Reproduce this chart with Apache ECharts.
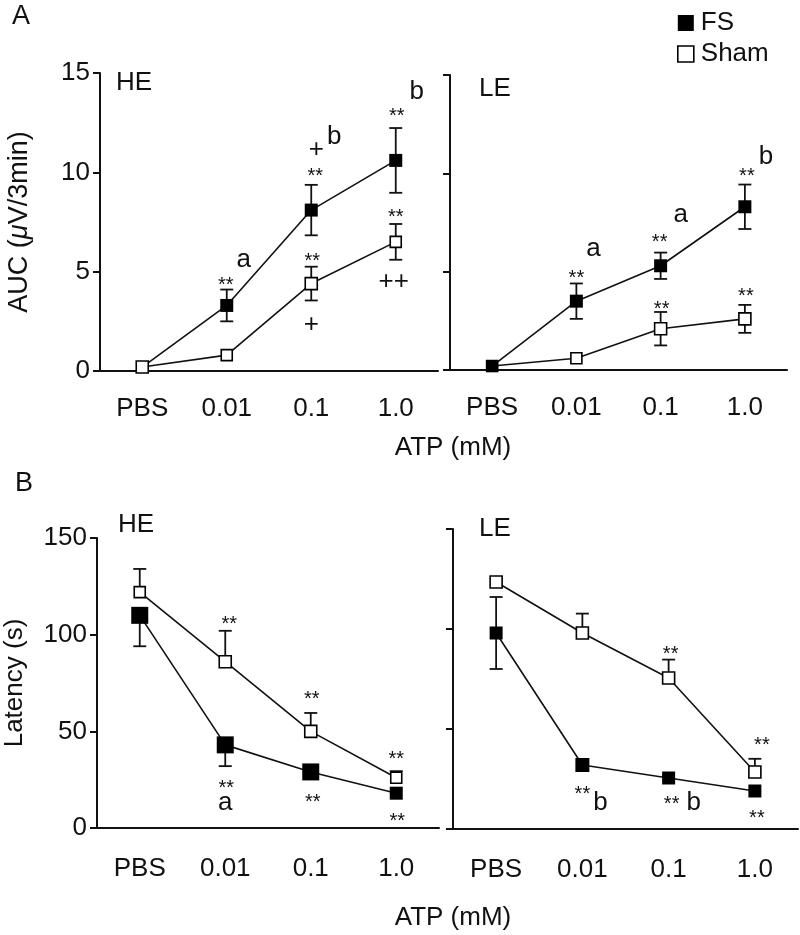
<!DOCTYPE html>
<html><head><meta charset="utf-8">
<script src="https://cdn.jsdelivr.net/npm/echarts@6.0.0/dist/echarts.min.js"></script>
<style>html,body{margin:0;padding:0;background:#fff}#c{width:800px;height:935px}</style>
</head><body><div id="c"></div>
<script>
// ---- data ----
const categories = ['PBS', '0.01', '0.1', '1.0'];
const aucTicks = [0, 5, 10, 15];
const latTicks = [0, 50, 100, 150];
// Panel A: AUC (uV/3min)
const aucHE_FS = [0.2, 3.3, 8.1, 10.6];
const aucHE_FS_err = [0, 0.8, 1.27, 1.63];
const aucHE_Sham = [0.2, 0.8, 4.4, 6.5];
const aucHE_Sham_err = [0, 0, 0.85, 0.9];
const aucLE_FS = [0.2, 3.5, 5.3, 8.3];
const aucLE_FS_err = [0, 0.9, 0.67, 1.13];
const aucLE_Sham = [0.2, 0.6, 2.1, 2.6];
const aucLE_Sham_err = [0, 0, 0.85, 0.71];
// Panel B: latency (s)
const latHE_FS = [110, 43, 29, 18];
const latHE_FS_errDown = [16, 11, 0, 0];
const latHE_Sham = [122, 86, 50, 26];
const latHE_Sham_errUp = [12, 16, 9.5, 3.4];
const latLE_FS = [98, 32, 25.5, 19];
const latLE_FS_err = [18, 0, 0, 0];
const latLE_Sham = [123.5, 98, 75.5, 28.5];
const latLE_Sham_errUp = [0, 9.7, 9.2, 6.6];

// ---- styling / layout ----
const FONT = '"Liberation Sans", Arial, Helvetica, sans-serif';
const INK = '#111';
const FS_TXT = 26;
const grids = [
  {left: 100, top: 73, width: 338, height: 298},
  {left: 450, top: 75, width: 337, height: 295},
  {left: 97, top: 538, width: 342, height: 290},
  {left: 453, top: 529, width: 345, height: 300}
];
const symbolSizes = {
  0: {FS: [12, 13, 13, 13], Sham: [12, 11, 12, 11]},
  1: {FS: [12, 13, 13, 13], Sham: [11, 11, 12, 12]},
  2: {FS: [17, 17, 17, 13], Sham: [11, 12, 12, 11]},
  3: {FS: [13, 14, 13, 13], Sham: [12, 12, 12, 12]}
};
const panels = [
  {FS: aucHE_FS, FSup: aucHE_FS_err, FSdn: aucHE_FS_err, Sham: aucHE_Sham, Shup: aucHE_Sham_err, Shdn: aucHE_Sham_err, order: ['FS', 'Sham']},
  {FS: aucLE_FS, FSup: aucLE_FS_err, FSdn: aucLE_FS_err, Sham: aucLE_Sham, Shup: aucLE_Sham_err, Shdn: aucLE_Sham_err, order: ['Sham', 'FS']},
  {FS: latHE_FS, FSup: [0,0,0,0], FSdn: latHE_FS_errDown, Sham: latHE_Sham, Shup: latHE_Sham_errUp, Shdn: [0,0,0,0], order: ['FS', 'Sham']},
  {FS: latLE_FS, FSup: latLE_FS_err, FSdn: latLE_FS_err, Sham: latLE_Sham, Shup: latLE_Sham_errUp, Shdn: [0,0,0,0], order: ['FS', 'Sham']}
];
// annotations: [panel, series, categoryIndex, text, dx, dy]
const annotations = [
  [0, 'FS', 1, '**', -1, -22], [0, 'FS', 1, 'a', 17, -46],
  [0, 'FS', 2, '**', 4, -36], [0, 'FS', 2, '+', 5, -60], [0, 'FS', 2, 'b', 23, -73],
  [0, 'FS', 3, '**', 1, -46], [0, 'FS', 3, 'b', 21, -69],
  [0, 'Sham', 2, '**', 1, -24], [0, 'Sham', 2, '+', 0, 41],
  [0, 'Sham', 3, '**', 0, -26], [0, 'Sham', 3, '++', -2, 40],
  [1, 'FS', 1, '**', 0, -25], [1, 'FS', 1, 'a', 17, -52],
  [1, 'FS', 2, '**', -1, -25], [1, 'FS', 2, 'a', 20, -51],
  [1, 'FS', 3, '**', 2, -32], [1, 'FS', 3, 'b', 21, -50],
  [1, 'Sham', 2, '**', 1, -21], [1, 'Sham', 3, '**', 1, -24],
  [2, 'Sham', 1, '**', 4, -39], [2, 'Sham', 2, '**', 1, -34], [2, 'Sham', 3, '**', 0, -20],
  [2, 'FS', 1, '**', 1, 42], [2, 'FS', 1, 'a', 0, 58],
  [2, 'FS', 2, '**', 2, 29], [2, 'FS', 3, '**', 1, 26],
  [3, 'Sham', 2, '**', 2, -26], [3, 'Sham', 3, '**', 7, -29],
  [3, 'FS', 1, '**', 0, 27], [3, 'FS', 1, 'b', 18, 38],
  [3, 'FS', 2, '**', 3, 24], [3, 'FS', 2, 'b', 25, 25],
  [3, 'FS', 3, '**', 2, 25]
];

const xAxes = grids.map((g, i) => ({
  type: 'category', gridIndex: i, data: categories, boundaryGap: true,
  axisLine: {lineStyle: {color: INK, width: 2}},
  axisTick: {show: false},
  axisLabel: {color: INK, fontFamily: FONT, fontSize: FS_TXT, margin: i < 2 ? 25 : 28}
}));
const yAxes = grids.map((g, i) => {
  const ticks = i < 2 ? aucTicks : latTicks;
  const ax = {
    type: 'value', gridIndex: i, min: ticks[0], max: ticks[ticks.length - 1],
    interval: ticks[1] - ticks[0], splitLine: {show: false},
    axisLine: {show: true, lineStyle: {color: INK, width: 2}},
    axisTick: {show: true, length: 7, lineStyle: {color: INK, width: 2}},
    axisLabel: {show: i % 2 === 0, color: INK, fontFamily: FONT, fontSize: FS_TXT, margin: 10}
  };
  if (i === 0) {
    ax.name = '{n|AUC (}{i|\u03bc}{n|V/3min)}';
    ax.nameLocation = 'middle'; ax.nameRotate = 90; ax.nameGap = 67;
    ax.nameTextStyle = {rich: {n: {fontFamily: FONT, fontSize: 27, color: INK}, i: {fontFamily: FONT, fontSize: 27, fontStyle: 'italic', color: INK}}};
  }
  if (i === 2) {
    ax.name = 'Latency (s)';
    ax.nameLocation = 'middle'; ax.nameRotate = 90; ax.nameGap = 69;
    ax.nameTextStyle = {fontFamily: FONT, fontSize: 26, color: INK};
  }
  return ax;
});

function errRender(params, api) {
  const x = api.value(0), y = api.value(1), up = api.value(2), dn = api.value(3);
  const c = api.coord([x, y]);
  const hw = 6.5;
  const style = {stroke: INK, lineWidth: 1.8};
  const ch = [];
  if (up > 0) {
    const t = api.coord([x, y + up]);
    ch.push({type: 'line', shape: {x1: c[0], y1: c[1], x2: c[0], y2: t[1]}, style});
    ch.push({type: 'line', shape: {x1: c[0] - hw, y1: t[1], x2: c[0] + hw, y2: t[1]}, style});
  }
  if (dn > 0) {
    const b = api.coord([x, y - dn]);
    ch.push({type: 'line', shape: {x1: c[0], y1: c[1], x2: c[0], y2: b[1]}, style});
    ch.push({type: 'line', shape: {x1: c[0] - hw, y1: b[1], x2: c[0] + hw, y2: b[1]}, style});
  }
  return {type: 'group', children: ch};
}

const series = [];
panels.forEach((p, i) => {
  p.order.forEach(name => {
    const vals = p[name];
    const up = name === 'FS' ? p.FSup : p.Shup;
    const dn = name === 'FS' ? p.FSdn : p.Shdn;
    series.push({
      type: 'custom', name: name, xAxisIndex: i, yAxisIndex: i, z: 2,
      renderItem: errRender, encode: {x: 0, y: 1}, silent: true,
      data: vals.map((v, k) => [k, v, up[k], dn[k]])
    });
  });
  p.order.forEach(name => {
    const vals = p[name];
    const sizes = symbolSizes[i][name];
    series.push({
      type: 'line', name: name, xAxisIndex: i, yAxisIndex: i, z: 3,
      symbol: 'rect', showAllSymbol: true,
      lineStyle: {color: INK, width: 1.6},
      itemStyle: name === 'FS' ? {color: '#000', borderColor: '#000', borderWidth: 0}
                               : {color: '#fff', borderColor: '#000', borderWidth: 1.6},
      data: vals.map((v, k) => ({value: v, symbolSize: sizes[k]})),
      animation: false
    });
  });
  const ann = annotations.filter(a => a[0] === i);
  series.push({
    type: 'scatter', xAxisIndex: i, yAxisIndex: i, z: 5, symbolSize: 1, silent: true,
    itemStyle: {color: 'rgba(0,0,0,0)', opacity: 1},
    data: ann.map(a => ({
      value: [a[2], p[a[1]][a[2]]],
      label: {
        show: true, position: 'inside', formatter: a[3], offset: [a[4], a[5] + (a[3] === '**' ? 2 : 0)],
        fontFamily: FONT, color: INK, opacity: 1,
        fontSize: a[3] === '**' ? 20 : 26, align: 'center', verticalAlign: 'middle'
      }
    }))
  });
});

const txt = (x, y, s, size) => ({
  type: 'text', x: x, y: y,
  style: {text: s, fontFamily: FONT, fontSize: size, fill: INK, align: 'center', verticalAlign: 'middle'}
});

const chart = echarts.init(document.getElementById('c'), null, {renderer: 'canvas'});
chart.setOption({
  animation: false,
  backgroundColor: '#fff',
  grid: grids.map(g => Object.assign({containLabel: false}, g)),
  xAxis: xAxes,
  yAxis: yAxes,
  legend: {
    orient: 'vertical', left: 672, top: 5, itemWidth: 16, itemHeight: 16, itemGap: 5,
    icon: 'rect', selectedMode: false,
    textStyle: {fontFamily: FONT, fontSize: 26, color: INK, padding: [0, 0, 0, 2]},
    data: [
      {name: 'FS', itemStyle: {color: '#000', borderColor: '#000', borderWidth: 0}},
      {name: 'Sham', itemStyle: {color: '#fff', borderColor: '#000', borderWidth: 1.6}}
    ]
  },
  graphic: [
    txt(21, 17, 'A', 27), txt(24, 484, 'B', 27),
    txt(134, 83, 'HE', 26), txt(495, 89, 'LE', 26),
    txt(136, 525, 'HE', 26), txt(495, 529, 'LE', 26),
    txt(453, 448, 'ATP (mM)', 26), txt(453, 918, 'ATP (mM)', 26)
  ],
  series: series
});
</script>
</body></html>
